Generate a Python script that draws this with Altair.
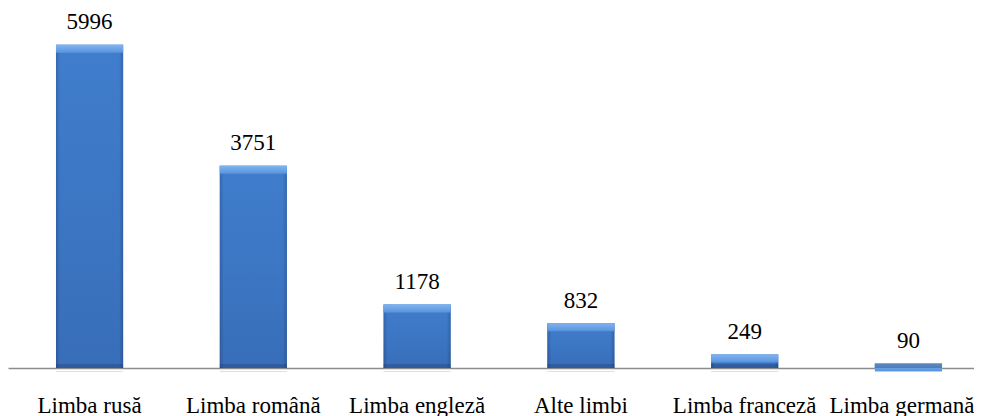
import altair as alt
import pandas as pd

categories = ["Limba rusă", "Limba română", "Limba engleză", "Alte limbi", "Limba franceză", "Limba germană"]
values = [5996, 3751, 1178, 832, 249, 90]

df = pd.DataFrame({"cat": categories, "val": values})

SERIF = "Liberation Serif"

x = alt.X(
    "cat:N",
    sort=categories,
    scale=alt.Scale(range=[0, 982], paddingInner=0.59, paddingOuter=0.293),
    axis=alt.Axis(
        title=None, labelAngle=0, ticks=False, grid=False,
        domainColor="#8c8c8c", domainWidth=1.5,
        labelFont=SERIF, labelFontSize=23, labelColor="black",
        labelPadding=44, labelBaseline="alphabetic",
        labelOverlap=False, labelLimit=0,
        # keep the last label inside the visible page edge
        labelAlign={"condition": {"test": "datum.index === 1", "value": "right"}, "value": "center"},
        labelOffset={"condition": {"test": "datum.index === 1", "value": 66}, "value": 0},
    ),
)
y_scale = alt.Scale(domain=[0, 6680], nice=False, zero=True)
yv = alt.Y("val:Q", scale=y_scale, axis=None)

base = alt.Chart(df).transform_calculate(zero="0")


def grad(stops, horizontal=False):
    return alt.Gradient(
        gradient="linear",
        stops=[alt.GradientStop(color=c, offset=o) for o, c in stops],
        x1=0, x2=1 if horizontal else 0, y1=0, y2=0 if horizontal else 1,
    )


shadow = base.mark_bar(color="#000000", opacity=0.12, yOffset=3, y2Offset=4).encode(
    x=x, y=alt.Y("zero:Q", scale=y_scale, axis=None), y2="zero:Q"
)

main = base.mark_bar(
    color=grad([(0, "#4687d8"), (0.5, "#3d78c6"), (1, "#3565ac")]),
).encode(x=x, y=yv, y2="zero:Q")

sides = base.mark_bar(
    color=grad([(0, "#264d8c"), (0.06, "#3b75c2"), (0.94, "#3b75c2"), (1, "#264d8c")], horizontal=True),
    opacity=0.55,
).encode(x=x, y=yv, y2="zero:Q")

top_bevel = base.mark_bar(
    y2Offset=8,
    color=grad([(0, "#7fb4f0"), (1, "#5893dc")]),
).encode(x=x, y=yv, y2="val:Q")

bottom_bevel = base.mark_bar(yOffset=-4, color="#1e3c6e", opacity=0.35).encode(
    x=x, y=alt.Y("zero:Q", scale=y_scale, axis=None), y2="zero:Q"
)

labels = base.mark_text(
    baseline="alphabetic", dy=-15.5, font=SERIF, fontSize=23, color="black"
).encode(x=x, y=yv, text=alt.Text("val:Q", format="d"))

chart = alt.layer(shadow, main, sides, top_bevel, bottom_bevel, labels).properties(
    width=966,
    height=360,
    autosize=alt.AutoSizeParams(type="none"),
    padding={"left": 0, "top": 0, "right": 0, "bottom": 48},
).configure_view(stroke=None)

chart.save("out.html", embed_options={"renderer": "svg", "actions": False})
